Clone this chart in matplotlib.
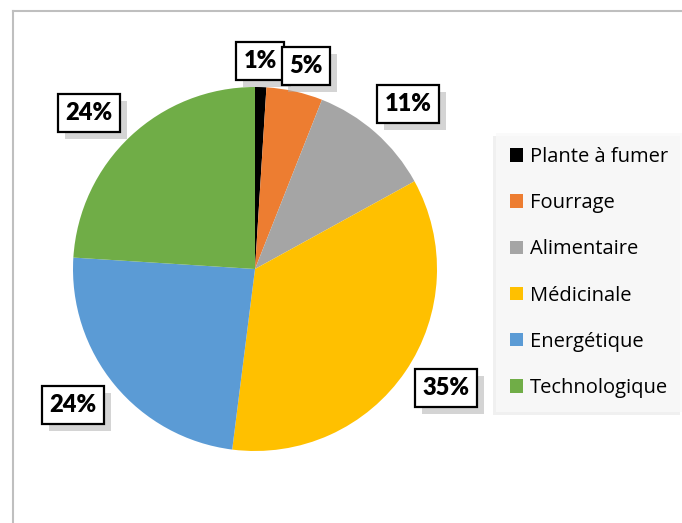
import matplotlib.pyplot as plt
import matplotlib.patheffects as pe
from matplotlib.lines import Line2D

# Data
categories = ['Plante à fumer', 'Fourrage', 'Alimentaire', 'Médicinale', 'Energétique', 'Technologique']
values = [1, 5, 11, 35, 24, 24]
colors = ['#000000', '#ED7D31', '#A5A5A5', '#FFC000', '#5B9BD5', '#70AD47']
label_pos = [(260, 462), (306, 457), (408, 419), (446, 135), (73, 118), (89, 410)]

plt.rcParams['font.family'] = ['Lato', 'DejaVu Sans']

fig = plt.figure(figsize=(6.82, 5.23), dpi=100)
ax = fig.add_axes([0, 0, 1, 1])

# outer frame
fig.add_artist(Line2D([13 / 682, 13 / 682], [0, 1 - 11 / 523], color='#bfbfbf', lw=1.5))
fig.add_artist(Line2D([13 / 682, 1], [1 - 11 / 523, 1 - 11 / 523], color='#bfbfbf', lw=1.5))

wedges, _ = ax.pie(values, colors=colors, startangle=90, counterclock=False,
                   center=(255, 254), radius=182, frame=True,
                   wedgeprops=dict(linewidth=0))
ax.set_xlim(0, 682)
ax.set_ylim(0, 523)
ax.set_aspect('equal')
ax.axis('off')

for v, (x, y) in zip(values, label_pos):
    t = ax.text(x, y, f'{v}%', ha='center', va='center', fontsize=17, fontweight='heavy',
                bbox=dict(boxstyle='square,pad=0.33', facecolor='white', edgecolor='black', linewidth=1.6))
    t.get_bbox_patch().set_path_effects([
        pe.SimplePatchShadow(offset=(5, -5), shadow_rgbFace='#aaaaaa', alpha=0.5), pe.Normal()])

leg = ax.legend(wedges, categories, loc='upper left', bbox_to_anchor=(496 / 682, 1 - 133 / 523),
                bbox_transform=fig.transFigure, prop=dict(family='Open Sans', size=14.5),
                frameon=True, fancybox=False,
                handlelength=0.65, handleheight=0.65, handletextpad=0.35, labelspacing=1.3,
                borderpad=0.7, borderaxespad=0)
frame = leg.get_frame()
frame.set_facecolor('#f9f9f9')
frame.set_edgecolor('none')
frame.set_path_effects([pe.SimplePatchShadow(offset=(-2, -2), shadow_rgbFace='#e6e6e6', alpha=0.6), pe.Normal()])

fig.savefig('out.png', dpi=100)
